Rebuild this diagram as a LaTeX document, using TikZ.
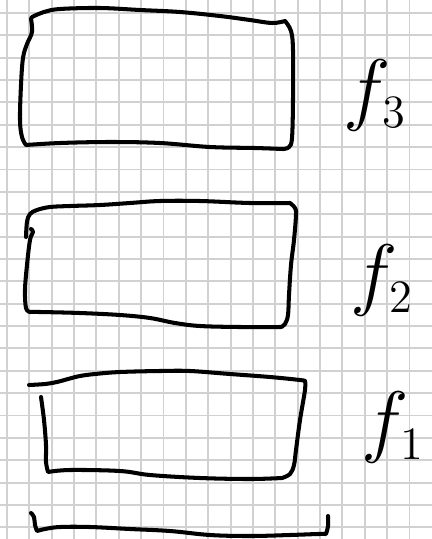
\documentclass[tikz,border=0pt]{standalone}
\usepackage{tikz}
\usepackage{graphicx}

\newcommand{\handlbl}[1]{\scalebox{2.2}{$#1$}}

\begin{document}
\begin{tikzpicture}[x=0.02cm, y=-0.02cm,
    paper/.style={draw=black!18, line width=1.1pt},
    pen/.style={draw=black, line width=2.3pt, line cap=round, line join=round},
    lbl/.style={inner sep=0pt, anchor=base west, font=\fontsize{20.74}{24}\selectfont}]
    \useasboundingbox (0,0) rectangle (432,539);
    \fill[white] (0,0) rectangle (432,539);

    % Squared paper
    \foreach \i in {0,...,18}
        \draw[paper] ({7+22.36*\i},0) -- ({7+22.36*\i},539);
    \foreach \j in {0,...,23}
        \draw[paper] (0,{13+22.36*\j}) -- (432,{13+22.36*\j});

    % Top frame
    \draw[pen] plot[smooth, tension=.6] coordinates {(285,21) (272,23) (250,20) (220,16) (180,12) (140,10) (100,8) (60,9) (44,12) (32,17)}
        -- plot[smooth, tension=.6] coordinates {(31,19) (32,32) (27,44) (23,58) (21,85) (20,120) (22,137) (26,145)}
        -- plot[smooth, tension=.6] coordinates {(26,145) (60,143) (110,142) (160,143) (210,147) (255,148) (283,149)}
        -- plot[smooth, tension=.6] coordinates {(283,149) (289,147) (292,138) (293,100) (293,50) (291,31) (285,21)};

    % Middle frame
    \draw[pen] plot[smooth, tension=.6] coordinates {(26,237) (27,222) (30,214) (37,210) (50,207) (70,206) (100,205) (130,203) (160,201) (200,201) (250,203) (290,203)}
        -- plot[smooth, tension=.6] coordinates {(290,203) (295,208) (296,215) (294,240) (291,265) (289,295) (288,315) (285,324) (281,327)}
        -- plot[smooth, tension=.6] coordinates {(281,327) (240,327) (200,326) (175,323) (150,318) (120,315) (80,313) (40,312) (30,312)}
        -- plot[smooth, tension=.6] coordinates {(30,312) (26,308) (25,290) (27,265) (30,240) (33,232) (31,229)};

    % Bottom frame
    \draw[pen] plot[smooth, tension=.6] coordinates {(29,385) (45,384) (57,382) (68,379) (80,376) (95,374) (120,372) (160,371) (190,371) (230,374) (270,377) (300,380) (305,381)}
        -- plot[smooth, tension=.6] coordinates {(305,381) (305,390) (300,420) (296,450) (294,465) (290,474) (282,478)}
        -- plot[smooth, tension=.6] coordinates {(282,478) (250,479) (200,478) (150,475) (120,471) (70,470) (48,472)}
        -- plot[smooth, tension=.6] coordinates {(48,472) (46,462) (46,445) (44,420) (41,397)};

    % Brace under the frames
    \draw[pen] plot[smooth, tension=.6] coordinates {(31,513) (34,517) (35,525) (37,531)}
        -- plot[smooth, tension=.6] coordinates {(37,531) (45,529) (60,527) (90,527) (130,529) (170,531) (210,535) (250,536) (290,535) (318,534) (326,534)}
        -- plot[smooth, tension=.6] coordinates {(326,534) (328,526) (328,516)};

    % Labels
    \node[lbl] (lbl3) at (343,115) {\handlbl{f_{\scriptscriptstyle 3}}};
    \node[lbl] (lbl2) at (350,300) {\handlbl{f_{\scriptscriptstyle 2}}};
    \node[lbl] (lbl1) at (361,447) {\handlbl{f_{\scriptscriptstyle 1}}};
\end{tikzpicture}
\end{document}
